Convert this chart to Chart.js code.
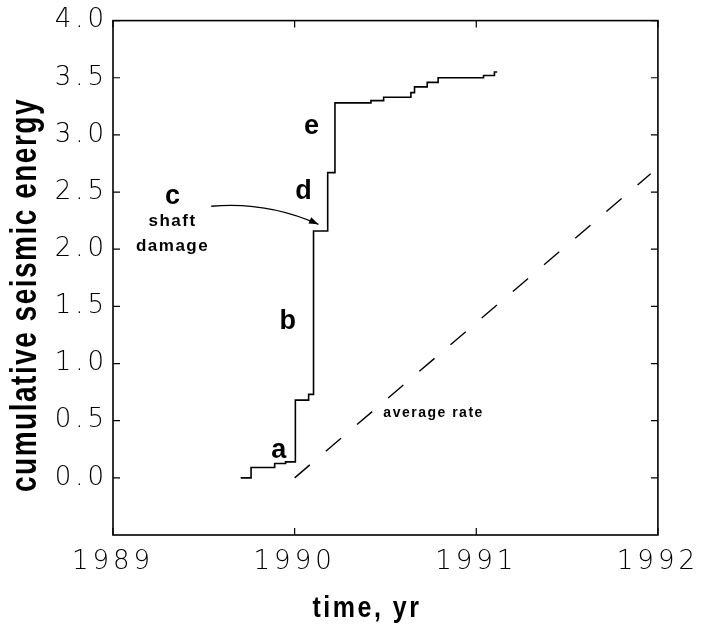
<!DOCTYPE html>
<html>
<head>
<meta charset="utf-8">
<script src="https://cdn.jsdelivr.net/npm/chart.js@4.4.1/dist/chart.umd.min.js"></script>
<style>
html,body{margin:0;padding:0;background:#fff;}
#wrap{width:703px;height:630px;position:relative;}
</style>
</head>
<body>
<div id="wrap"><canvas id="c" width="703" height="630"></canvas></div>
<script>
// ---- data ----
const years  = [1989.703, 1989.76, 1989.89, 1989.95, 1990.004, 1990.077, 1990.104, 1990.182, 1990.222, 1990.42, 1990.49, 1990.64, 1990.66, 1990.73, 1990.79, 1991.04, 1991.10, 1991.115];
const energy = [0.00,     0.09,    0.125,   0.14,    0.68,     0.73,     2.16,     2.67,     3.28,     3.30,    3.33,    3.37,    3.42,    3.46,    3.50,    3.52,    3.55,    3.55];
const rateYears  = [1990.0, 1991.96];
const rateEnergy = [0.0, 2.66];
const xTickValues = [1989, 1990, 1991, 1992];
const yTickValues = [0.0, 0.5, 1.0, 1.5, 2.0, 2.5, 3.0, 3.5, 4.0];
const xTitle = 'time, yr';
const yTitle = 'cumulative seismic energy';
// annotation labels, anchored in data coordinates
const noteText = ['a', 'b', 'c', 'shaft', 'damage', 'd', 'e', 'average rate'];
const noteX    = [1989.913, 1989.962, 1989.328, 1989.328, 1989.328, 1990.049, 1990.093, 1990.765];
const noteY    = [0.236, 1.371, 2.463, 2.245, 2.026, 2.507, 3.074, 0.568];
const arrowX   = [1989.541, 1989.847, 1990.131];
const arrowY   = [2.376, 2.419, 2.218];

const BIG = 'bold 27px "Liberation Sans", Arial, sans-serif';
const noteFont = [BIG, BIG, BIG, 'bold 17px "Liberation Sans", Arial, sans-serif', 'bold 17px "Liberation Sans", Arial, sans-serif', BIG, BIG, 'bold 14px "Liberation Sans", Arial, sans-serif'];
const noteSpacing = ['0px','0px','0px','1.5px','1.5px','0px','0px','1.5px'];

const framePlugin = {
  id: 'frame',
  beforeDraw(chart) {
    chart.ctx.letterSpacing = '4px';
  },
  afterDraw(chart) {
    const {ctx, chartArea: a, scales: {x, y}} = chart;
    ctx.save();
    ctx.letterSpacing = '0px';
    ctx.strokeStyle = '#000';
    ctx.lineWidth = 1.6;
    ctx.strokeRect(a.left, a.top, a.right - a.left, a.bottom - a.top);
    ctx.lineWidth = 1.2;
    ctx.beginPath();
    x.ticks.forEach(t => {
      const px = x.getPixelForValue(t.value);
      ctx.moveTo(px, a.bottom); ctx.lineTo(px, a.bottom - 7);
      ctx.moveTo(px, a.top); ctx.lineTo(px, a.top + 7);
    });
    y.ticks.forEach(t => {
      const py = y.getPixelForValue(t.value);
      ctx.moveTo(a.left, py); ctx.lineTo(a.left + 7, py);
      ctx.moveTo(a.right, py); ctx.lineTo(a.right - 7, py);
    });
    ctx.stroke();

    // annotations
    ctx.fillStyle = '#000';
    ctx.textAlign = 'center';
    ctx.textBaseline = 'middle';
    noteText.forEach((t, i) => {
      ctx.font = noteFont[i];
      ctx.letterSpacing = noteSpacing[i];
      ctx.fillText(t, x.getPixelForValue(noteX[i]), y.getPixelForValue(noteY[i]));
    });
    ctx.letterSpacing = '0px';

    // arrow
    const p0 = [x.getPixelForValue(arrowX[0]), y.getPixelForValue(arrowY[0])];
    const c1 = [x.getPixelForValue(arrowX[1]), y.getPixelForValue(arrowY[1])];
    const p2 = [x.getPixelForValue(arrowX[2]), y.getPixelForValue(arrowY[2])];
    ctx.lineWidth = 1.3;
    ctx.beginPath();
    ctx.moveTo(p0[0], p0[1]);
    ctx.quadraticCurveTo(c1[0], c1[1], p2[0], p2[1]);
    ctx.stroke();
    const ang = Math.atan2(p2[1] - c1[1], p2[0] - c1[0]);
    ctx.beginPath();
    ctx.moveTo(p2[0], p2[1]);
    ctx.lineTo(p2[0] - 10 * Math.cos(ang - 0.35), p2[1] - 10 * Math.sin(ang - 0.35));
    ctx.lineTo(p2[0] - 10 * Math.cos(ang + 0.35), p2[1] - 10 * Math.sin(ang + 0.35));
    ctx.closePath();
    ctx.fill();

    // axis titles
    ctx.textBaseline = 'alphabetic';
    ctx.save();
    ctx.translate(367, 617);
    ctx.scale(1, 1.15);
    ctx.font = 'bold 25px "Liberation Sans", Arial, sans-serif';
    ctx.letterSpacing = '2.5px';
    ctx.fillText(xTitle, 0, 0);
    ctx.restore();
    ctx.save();
    ctx.translate(36, 295);
    ctx.rotate(-Math.PI / 2);
    ctx.scale(1, 1.3);
    ctx.font = 'bold 28px "Liberation Sans", Arial, sans-serif';
    ctx.letterSpacing = '1.5px';
    ctx.fillText(yTitle, 0, 0);
    ctx.restore();
    ctx.restore();
  }
};

const tickFont = {family: '"DejaVu Sans", sans-serif', size: 26, weight: '200'};

new Chart(document.getElementById('c'), {
  type: 'line',
  data: {
    datasets: [
      {
        label: 'cumulative seismic energy',
        data: years.map((v, i) => ({x: v, y: energy[i]})),
        stepped: 'before',
        borderColor: '#000',
        borderWidth: 1.6,
        pointRadius: 0,
        fill: false
      },
      {
        label: 'average rate',
        data: rateYears.map((v, i) => ({x: v, y: rateEnergy[i]})),
        borderColor: '#000',
        borderWidth: 1.4,
        borderDash: [20, 21],
        pointRadius: 0,
        fill: false
      }
    ]
  },
  options: {
    responsive: false,
    devicePixelRatio: 1,
    animation: false,
    layout: {padding: {top: 19, right: 42, bottom: 0, left: 0}},
    plugins: {legend: {display: false}, tooltip: {enabled: false}},
    scales: {
      x: {
        type: 'linear',
        min: 1989, max: 1992,
        afterBuildTicks: s => { s.ticks = xTickValues.map(v => ({value: v})); },
        afterFit: s => { s.height = 95; },
        grid: {display: false, drawTicks: false},
        border: {display: false},
        ticks: {color: '#000', font: tickFont, padding: 12, maxRotation: 0, autoSkip: false, callback: v => String(v)}
      },
      y: {
        type: 'linear',
        min: -0.5, max: 4.0,
        afterBuildTicks: s => { s.ticks = yTickValues.map(v => ({value: v})); },
        afterFit: s => { s.width = 113; },
        grid: {display: false, drawTicks: false},
        border: {display: false},
        ticks: {color: '#000', font: tickFont, padding: 5, autoSkip: false, callback: v => Number(v).toFixed(1)}
      }
    }
  },
  plugins: [framePlugin]
});
</script>
</body>
</html>
